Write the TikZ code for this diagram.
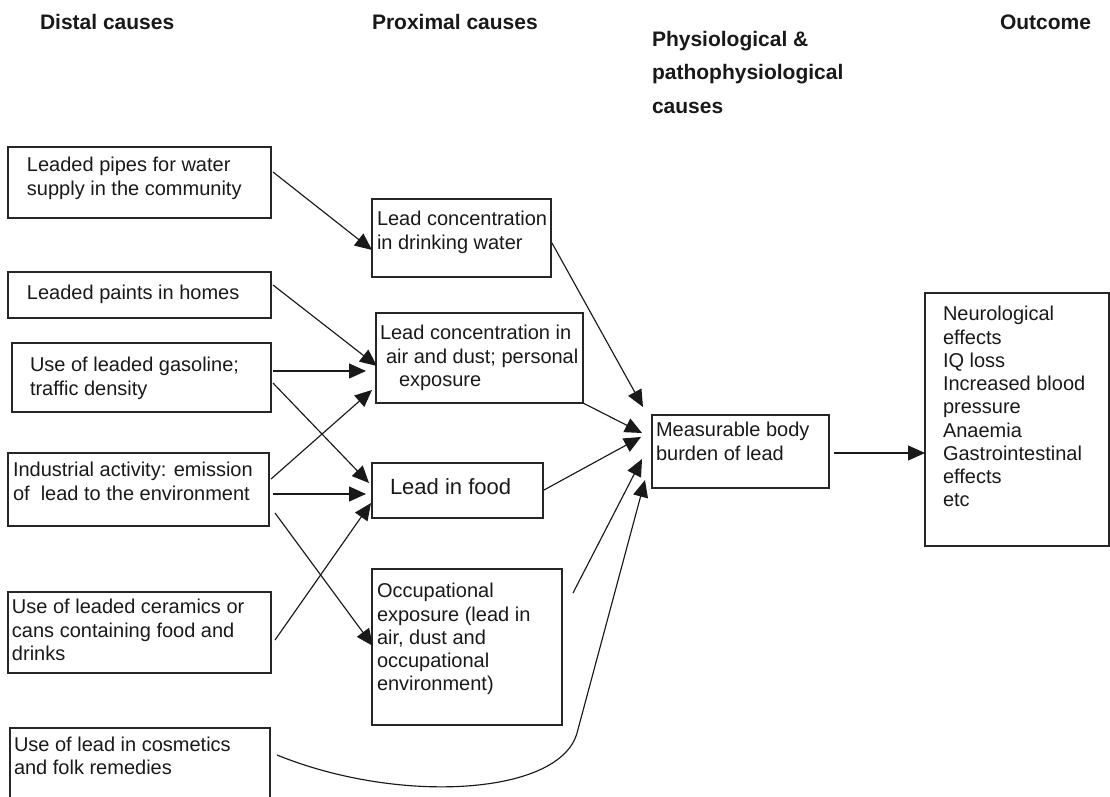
\documentclass[tikz,border=0pt]{standalone}
\usepackage{fontspec}
\setmainfont{Liberation Sans}
\usetikzlibrary{arrows.meta,calc}
\tikzset{
  box/.style={draw=black!85, line width=1.1pt, inner sep=0pt, outer sep=0pt, anchor=north west},
  txt/.style={anchor=north west, inner sep=0pt, outer sep=0pt, align=left, font=\fontsize{20}{23.25}\selectfont, text=black!90},
  hdr/.style={anchor=north west, inner sep=0pt, outer sep=0pt, align=left, font=\fontsize{21}{33.5}\selectfont\bfseries, text=black!90},
  arr/.style={draw=black!90, line width=1.15pt, -{Triangle[length=17pt,width=15pt]}}
}
\begin{document}
\begin{tikzpicture}[x=1pt,y=-1pt]
\useasboundingbox (0,0) rectangle (1110,797);
\clip (0,0) rectangle (1110,797);
% headers
\node[hdr] (h1) at (40,6) {\strut Distal causes};
\node[hdr] (h2) at (372,6) {\strut Proximal causes};
\node[hdr] (h3) at (652,23) {\strut Physiological \&\\pathophysiological\\causes};
\node[hdr] (h4) at (1000,6) {\strut Outcome};
% distal boxes
\node[box, minimum width=263pt, minimum height=71pt] (L1) at (8,147) {};
\node[box, minimum width=263pt, minimum height=46pt] (L2) at (8,272) {};
\node[box, minimum width=259pt, minimum height=69pt] (L3) at (12,343) {};
\node[box, minimum width=261pt, minimum height=73pt] (L4) at (8,453) {};
\node[box, minimum width=263pt, minimum height=81pt] (L5) at (8,592) {};
\node[box, minimum width=260pt, minimum height=90pt] (L6) at (10,728) {};
\node[txt] (L1t) at (27,155.7) {\strut Leaded pipes for water\\supply in the community};
\node[txt] (L2t) at (27,283.7) {\strut Leaded paints in homes};
\node[txt] (L3t) at (30,355.7) {\strut Use of leaded gasoline;\\traffic density};
\node[txt] (L4t) at (13,460.7) {\strut Industrial activity: emission\\of \ lead to the environment};
\node[txt] (L5t) at (12,597.7) {\strut Use of leaded ceramics or\\cans containing food and\\drinks};
\node[txt] (L6t) at (14,735.2) {\strut Use of lead in cosmetics\\and folk remedies};
% proximal boxes
\node[box, minimum width=179pt, minimum height=78pt] (M1) at (372,199) {};
\node[box, minimum width=207pt, minimum height=90pt] (M2) at (376,313) {};
\node[box, minimum width=171pt, minimum height=55pt] (M3) at (372,463) {};
\node[box, minimum width=190pt, minimum height=156pt] (M4) at (372,569) {};
\node[txt] (M1t) at (377,209.7) {\strut Lead concentration\\in drinking water};
\node[txt] (M2t) at (380,323.7) {\strut Lead concentration in\\\hspace*{6pt}air and dust; personal\\\hspace*{19pt}exposure};
\node[txt, font=\fontsize{22}{25}\selectfont] (M3t) at (390,476.5) {\strut Lead in food};
\node[txt] (M4t) at (377,581.7) {\strut Occupational\\exposure (lead in\\air, dust and\\occupational\\environment)};
% physiological box
\node[box, minimum width=177pt, minimum height=73pt] (C) at (652,415) {};
\node[txt] (Ct) at (656,420.7) {\strut Measurable body\\burden of lead};
% outcome box
\node[box, minimum width=184pt, minimum height=253pt] (O) at (925,293) {};
\node[txt] (Ot) at (943,304.7) {\strut Neurological\\effects\\IQ loss\\Increased blood\\pressure\\Anaemia\\Gastrointestinal\\effects\\etc};
% connectors distal -> proximal
\draw[arr] ($(L1.north east)+(2,25)$) -- ($(M1.north west)+(0,51)$);
\draw[arr] ($(L2.north east)+(2,13)$) -- ($(M2.north west)+(1,53)$);
\draw[arr] ($(L3.north east)+(2,28)$) -- ($(M2.north west)+(-10,58)$);
\draw[arr] ($(L3.north east)+(2,40)$) -- ($(M3.north west)+(-3,20)$);
\draw[arr] ($(L4.north east)+(2,26)$) -- ($(M2.north west)+(-4,77)$);
\draw[arr] ($(L4.north east)+(4,41)$) -- ($(M3.north west)+(-6,31)$);
\draw[arr] ($(L4.north east)+(6,60)$) -- ($(M4.north west)+(1,77)$);
\draw[arr] ($(L5.north east)+(4,48)$) -- ($(M3.north west)+(-1,40)$);
% proximal -> physiological
\draw[arr] ($(M1.north east)+(1,44)$) -- ($(C.north west)+(-9,-8)$);
\draw[arr] (M2.south east) -- ($(C.north west)+(-10,18)$);
\draw[arr] ($(M3.north east)+(1,27)$) -- ($(C.north west)+(-11,22)$);
\draw[arr] ($(M4.north east)+(11,24)$) -- ($(C.north west)+(-10,44)$);
% cosmetics curve
\coordinate (bend) at (577,733);
\draw[arr] ($(L6.north east)+(7,27)$) .. controls (400,805) and (560,795) .. (bend) -- ($(C.north west)+(-7,65)$);
% physiological -> outcome
\draw[arr] ($(C.north east)+(5,38)$) -- ($(O.north west)+(0,160)$);
\end{tikzpicture}
\end{document}
